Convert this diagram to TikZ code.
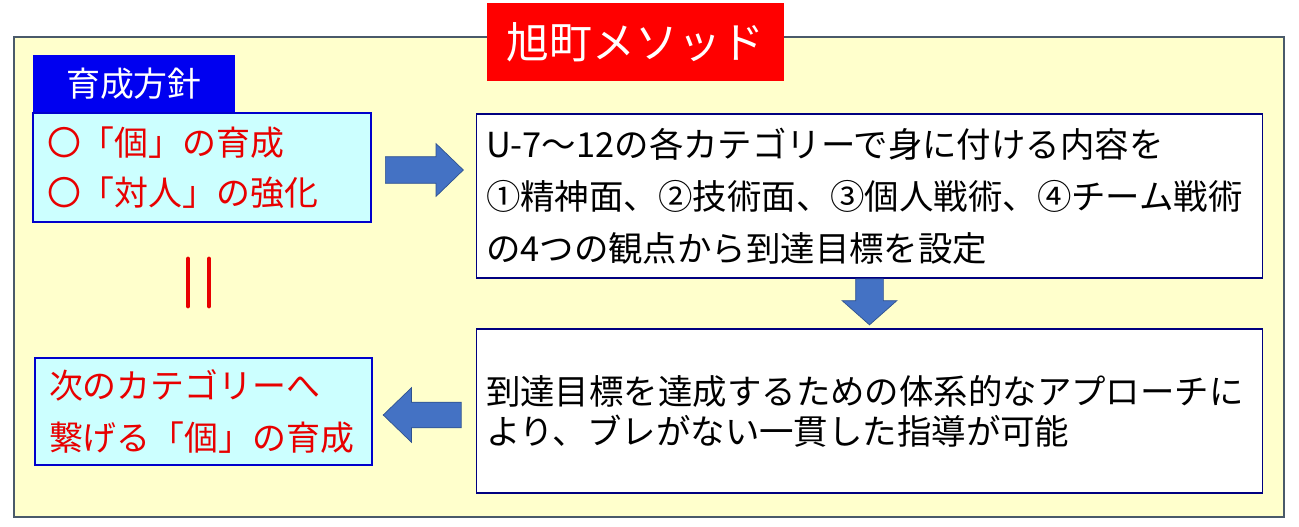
\documentclass[tikz,border=0pt]{standalone}
\usepackage{fontspec}
\setmainfont{Noto Sans CJK JP}
\usetikzlibrary{shapes.arrows,calc}
\definecolor{paper}{HTML}{FFFFCC}
\definecolor{frameline}{HTML}{4A5A6A}
\definecolor{cyanfill}{HTML}{CCFFFF}
\definecolor{cyanline}{HTML}{0000CC}
\definecolor{tagblue}{HTML}{0000F0}
\definecolor{navy}{HTML}{000080}
\definecolor{textred}{HTML}{E80000}
\definecolor{arrowfill}{HTML}{4472C4}
\definecolor{arrowline}{HTML}{2F528F}
\begin{document}
\begin{tikzpicture}[x=0.02cm,y=-0.02cm,
    cyanbox/.style={draw=cyanline, line width=1.2pt, fill=cyanfill, text=textred,
      font=\fontsize{19.3pt}{28.6pt}\selectfont, align=left, inner xsep=0.28cm},
    whitebox/.style={draw=navy, line width=0.6pt, fill=white, text=black,
      align=left, inner xsep=0.2cm, minimum width=15.74cm, minimum height=3.28cm,
      text width=15.34cm},
    blockarrow/.style={single arrow, draw=arrowline, line width=0.4pt, fill=arrowfill,
      inner xsep=0pt, single arrow head indent=0pt, anchor=tail}]
  \useasboundingbox (0,0) rectangle (1299,527);
  % ------ cadre ------------------------------
  \draw [frameline, fill=paper, line width=0.7pt] (14,37) rectangle (1284,517);
  \node [fill=red, text=white, minimum width=5.94cm, minimum height=1.56cm,
    font=\fontsize{24.4pt}{28pt}\selectfont] (title) at (635.5,42) {旭町メソッド};
  % ------ gauche -----------------------------
  \node [fill=tagblue, text=white, minimum width=4.04cm, minimum height=1.16cm,
    font=\fontsize{19.3pt}{24pt}\selectfont] (tag) at (134,84) {育成方針};
  \node [cyanbox, minimum width=6.76cm, minimum height=2.18cm, text width=6.2cm]
    (policy) at (202,167.5) {〇「個」の育成\\〇「対人」の強化};
  \node [cyanbox, minimum width=6.74cm, minimum height=2.14cm, text width=6.18cm,
    font=\fontsize{19.3pt}{29.6pt}\selectfont]
    (nextcat) at (203.5,411.5) {次のカテゴリーへ\\繋げる「個」の育成};
  \draw [textred, line width=2.8pt, line cap=round] (188,259)--(188,306);
  \draw [textred, line width=2.8pt, line cap=round] (209,259)--(209,306);
  % ------ droite -----------------------------
  \node [whitebox, font=\fontsize{19.6pt}{29.6pt}\selectfont] (goals) at (869.5,196)
    {U-7〜12の各カテゴリーで身に付ける内容を\\①精神面、②技術面、③個人戦術、④チーム戦術\\の4つの観点から到達目標を設定};
  \node [whitebox, font=\fontsize{19.6pt}{22.7pt}\selectfont] (approach) at (869.5,411)
    {到達目標を達成するための体系的なアプローチに\\より、ブレがない一貫した指導が可能};
  % ------ fleches ----------------------------
  \node [blockarrow, minimum height=1.56cm, inner ysep=0.26cm,
    single arrow head extend=0.26cm, single arrow tip angle=88]
    (toGoals) at ($(policy.east)+(13,2.5)$) {};
  \node [blockarrow, rotate=-90, minimum height=0.92cm, inner ysep=0.27cm,
    single arrow head extend=0.27cm, single arrow tip angle=97]
    (toApproach) at (goals.south) {};
  \node [blockarrow, rotate=180, minimum height=1.56cm, inner ysep=0.25cm,
    single arrow head extend=0.29cm, single arrow tip angle=88]
    (toNext) at ($(approach.west)+(-14,4)$) {};
\end{tikzpicture}
\end{document}
